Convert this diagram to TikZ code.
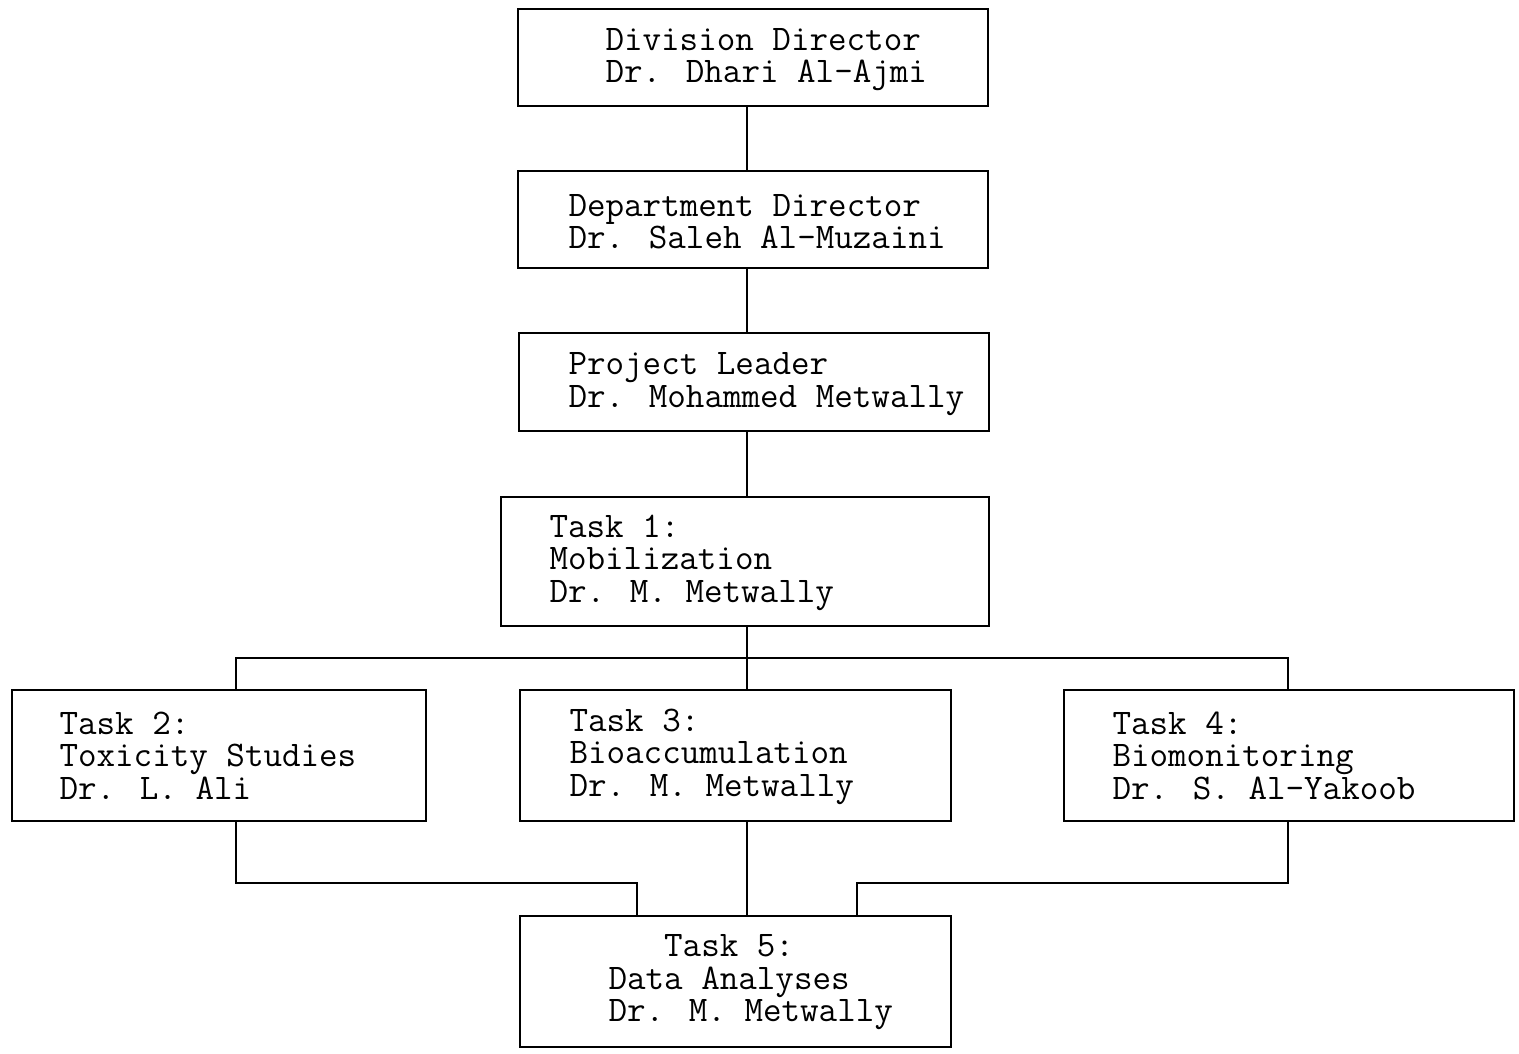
\documentclass[tikz,border=0pt]{standalone}
\usepackage{fontspec}
\usepackage{tikz}
\usetikzlibrary{calc, positioning}

\begin{document}
\begin{tikzpicture}[
  x=0.02cm, y=-0.02cm,
  box/.style={draw=black, line width=1pt, fill=white, inner sep=0pt},
  txt/.style={anchor=west, align=left, inner sep=0pt,
              font=\ttfamily\fontsize{20.5}{18.5}\selectfont},
  link/.style={draw=black, line width=0.9pt},
]
\useasboundingbox (0,0) rectangle (1519,1054);

\coordinate (spine) at (747,0);
\coordinate (bus) at (0,658);
\coordinate (join) at (0,883);
\coordinate (c2) at (236,0);
\coordinate (c4) at (1288,0);
\coordinate (in2) at (637,0);
\coordinate (in4) at (857,0);

\node[box, minimum width=9.4cm, minimum height=1.94cm] (div) at (753,57.5) {};
\node[txt] (divtxt) at ($(div.west)+(88,2)$) {Division Director\\Dr. Dhari Al-Ajmi};

\node[box, minimum width=9.4cm, minimum height=1.94cm] (dept) at (753,219.5) {};
\node[txt] (depttxt) at ($(dept.west)+(51,2)$) {Department Director\\Dr. Saleh Al-Muzaini};

\node[box, minimum width=9.4cm, minimum height=1.96cm] (lead) at (754,382) {};
\node[txt] (leadtxt) at ($(lead.west)+(50,2)$) {Project Leader\\Dr. Mohammed Metwally};

\node[box, minimum width=9.76cm, minimum height=2.58cm] (task1) at (745,561.5) {};
\node[txt] (task1txt) at ($(task1.west)+(49,1)$) {Task 1:\\Mobilization\\Dr. M. Metwally};

\node[box, minimum width=8.28cm, minimum height=2.62cm] (task2) at (219,755.5) {};
\node[txt] (task2txt) at ($(task2.west)+(48,0)$) {Task 2:\\Toxicity Studies\\Dr. L. Ali};

\node[box, minimum width=8.62cm, minimum height=2.62cm] (task3) at (735.5,755.5) {};
\node[txt] (task3txt) at ($(task3.west)+(50,1)$) {Task 3:\\Bioaccumulation\\Dr. M. Metwally};

\node[box, minimum width=9.0cm, minimum height=2.62cm] (task4) at (1289,755.5) {};
\node[txt] (task4txt) at ($(task4.west)+(49,0)$) {Task 4:\\Biomonitoring\\Dr. S. Al-Yakoob};

\node[box, minimum width=8.62cm, minimum height=2.62cm] (task5) at (735.5,981.5) {};
\node[txt] (task5txt) at ($(task5.west)+(89,1)$) {\phantom{Dat}Task 5:\\Data Analyses\\Dr. M. Metwally};

\draw[link] (div.south -| spine) -- (dept.north -| spine);
\draw[link] (dept.south -| spine) -- (lead.north -| spine);
\draw[link] (lead.south -| spine) -- (task1.north -| spine);
\draw[link] (task1.south -| spine) -- (task3.north -| spine);
\draw[link] (task2.north -| c2) -- (bus -| c2) -- (bus -| c4) -- (task4.north -| c4);
\draw[link] (task2.south -| c2) -- (join -| c2) -- (join -| in2) -- (task5.north -| in2);
\draw[link] (task3.south -| spine) -- (task5.north -| spine);
\draw[link] (task4.south -| c4) -- (join -| c4) -- (join -| in4) -- (task5.north -| in4);
\end{tikzpicture}
\end{document}
